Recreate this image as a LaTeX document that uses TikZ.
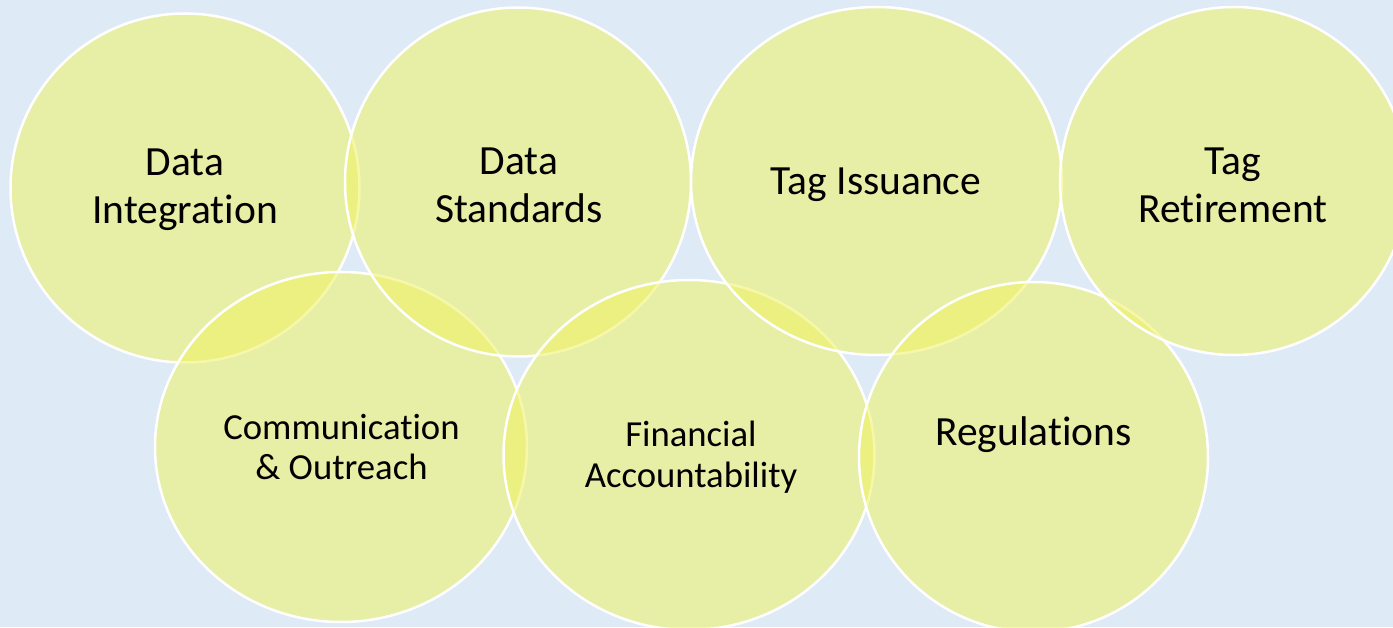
\documentclass[tikz,border=0pt]{standalone}
\usepackage{fontspec}
\setmainfont[Ligatures=CommonOff]{Carlito}
\usetikzlibrary{shapes.geometric}

\definecolor{paleblue}{RGB}{222,234,246}
\definecolor{ringyellow}{RGB}{240,242,100}

\begin{document}
\begin{tikzpicture}[x=1pt, y=1pt,
		ring/.style={ellipse, draw=white, line width=2.5pt, fill=ringyellow, fill opacity=0.55, draw opacity=1, inner sep=0pt},
		big/.style={align=center, font=\fontsize{41.5}{48}\selectfont},
		small/.style={align=center, font=\fontsize{36.7}{40.5}\selectfont}]

		% background
		\fill[paleblue] (0, 0) rectangle (1393, 627);
		\useasboundingbox (0, 0) rectangle (1393, 627);

		% rings, in drawing order
		\node[ring, minimum width=349pt, minimum height=349pt] (integration) at (185, 439) {};
		\node[ring, minimum width=372pt, minimum height=350pt] (outreach) at (341, 180) {};
		\node[ring, minimum width=346pt, minimum height=349pt] (standards) at (518, 445) {};
		\node[ring, minimum width=371pt, minimum height=350pt] (financial) at (689, 172) {};
		\node[ring, minimum width=371pt, minimum height=348pt] (issuance) at (876.5, 446) {};
		\node[ring, minimum width=349pt, minimum height=350pt] (regulations) at (1033.5, 170) {};
		\node[ring, minimum width=348pt, minimum height=348pt] (retirement) at (1234, 446) {};

		% labels
		\node[big] (tintegration) at (185, 437) {Data\\Integration};
		\node[big] (tstandards) at (519, 442) {Data\\Standards};
		\node[big] (tissuance) at (876, 442) {Tag Issuance};
		\node[big] (tretirement) at (1233, 442) {Tag\\Retirement};
		\node[small] (toutreach) at (341.5, 180) {Communication\\\& Outreach};
		\node[small] (tfinancial) at (691, 170) {Financial\\Accountability};
		\node[big] (tregulations) at (1033.5, 192) {Regulations};
	\end{tikzpicture}
\end{document}
